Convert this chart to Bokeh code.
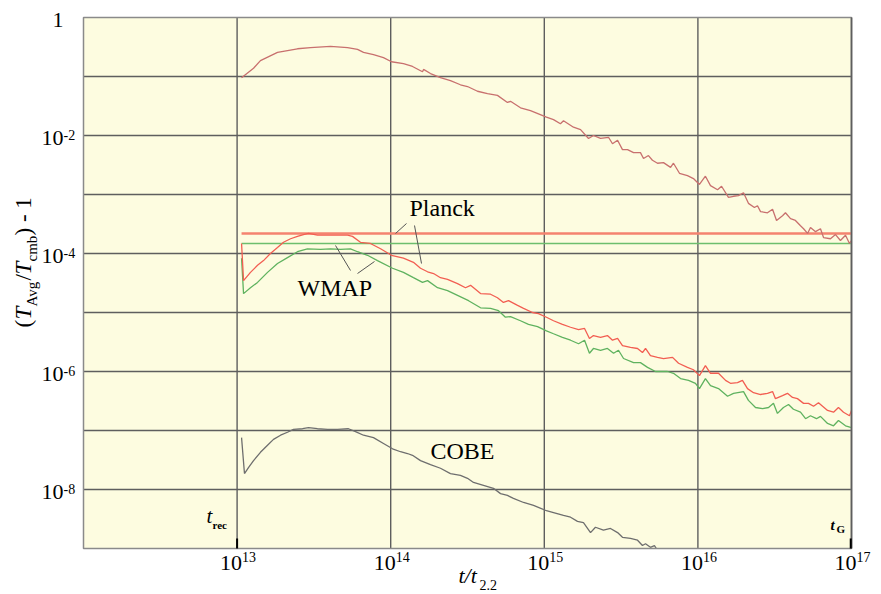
import numpy as np
from bokeh.plotting import figure
from bokeh.models import Label, Range1d
from bokeh.core.properties import value
from bokeh.embed import file_html
from bokeh.resources import INLINE

# ---------------- data (log10 of t/t2.2 and log10 of (T_avg/T_cmb)-1) -------------
top_logt = [13.029, 13.107, 13.152, 13.263, 13.393, 13.478, 13.608, 13.719, 13.784, 13.823,
            13.888, 13.953, 14.005, 14.083, 14.142, 14.207, 14.214, 14.259, 14.324, 14.389,
            14.454, 14.500, 14.565, 14.630, 14.695, 14.760, 14.780, 14.845, 14.910, 15.014,
            15.060, 15.105, 15.125, 15.190, 15.236, 15.288, 15.320, 15.366, 15.418, 15.444,
            15.477, 15.509, 15.542, 15.581, 15.626, 15.646, 15.678, 15.704, 15.737, 15.776,
            15.822, 15.841, 15.880, 15.932, 15.971, 16.010, 16.049, 16.082, 16.128, 16.154,
            16.199, 16.232, 16.264, 16.297, 16.329, 16.368, 16.388, 16.408, 16.453, 16.486,
            16.512, 16.551, 16.570, 16.603, 16.635, 16.668, 16.688, 16.714, 16.733, 16.766,
            16.798, 16.818, 16.863, 16.896, 16.928, 16.961, 16.987, 17.000]
top_logv = [-1.02, -0.86, -0.73, -0.59, -0.53, -0.51, -0.49, -0.51, -0.54, -0.59,
            -0.63, -0.68, -0.75, -0.78, -0.83, -0.92, -0.88, -0.95, -1.02, -1.07,
            -1.14, -1.17, -1.25, -1.29, -1.32, -1.44, -1.42, -1.53, -1.58, -1.69,
            -1.73, -1.80, -1.75, -1.86, -1.90, -2.05, -2.00, -2.05, -2.03, -2.14,
            -2.08, -2.24, -2.24, -2.29, -2.29, -2.39, -2.34, -2.42, -2.47, -2.46,
            -2.54, -2.47, -2.64, -2.68, -2.73, -2.83, -2.69, -2.85, -2.92, -2.86,
            -3.05, -3.03, -3.02, -2.97, -3.15, -3.22, -3.19, -3.29, -3.31, -3.25,
            -3.44, -3.36, -3.31, -3.41, -3.44, -3.53, -3.58, -3.66, -3.56, -3.63,
            -3.58, -3.73, -3.75, -3.68, -3.78, -3.69, -3.83, -3.78]

planck_logt = [13.029, 13.042, 13.087, 13.133, 13.172, 13.217, 13.263, 13.302, 13.348, 13.393,
               13.432, 13.465, 13.523, 13.589, 13.654, 13.719, 13.751, 13.803, 13.868, 13.934,
               14.005, 14.083, 14.148, 14.194, 14.240, 14.279, 14.324, 14.370, 14.435, 14.487,
               14.520, 14.585, 14.650, 14.695, 14.734, 14.767, 14.826, 14.865, 14.923, 14.962,
               15.014, 15.060, 15.118, 15.171, 15.223, 15.262, 15.294, 15.320, 15.366, 15.411,
               15.444, 15.477, 15.509, 15.561, 15.607, 15.639, 15.659, 15.691, 15.737, 15.776,
               15.835, 15.874, 15.932, 15.971, 16.010, 16.049, 16.082, 16.134, 16.180, 16.212,
               16.258, 16.290, 16.323, 16.362, 16.408, 16.453, 16.486, 16.505, 16.551, 16.583,
               16.616, 16.648, 16.688, 16.720, 16.753, 16.785, 16.844, 16.883, 16.915, 16.948,
               16.987, 17.000]
planck_logv = [-3.83, -4.46, -4.32, -4.20, -4.12, -4.00, -3.90, -3.81, -3.75, -3.71,
               -3.68, -3.66, -3.69, -3.69, -3.69, -3.69, -3.71, -3.81, -3.83, -3.92,
               -4.03, -4.08, -4.15, -4.25, -4.31, -4.34, -4.41, -4.44, -4.51, -4.58,
               -4.54, -4.68, -4.69, -4.75, -4.83, -4.80, -4.88, -4.93, -5.00, -5.02,
               -5.08, -5.14, -5.20, -5.25, -5.29, -5.27, -5.44, -5.39, -5.42, -5.39,
               -5.47, -5.44, -5.56, -5.59, -5.61, -5.68, -5.61, -5.73, -5.76, -5.78,
               -5.76, -5.86, -5.93, -5.97, -6.07, -5.90, -6.03, -6.03, -6.15, -6.20,
               -6.19, -6.15, -6.29, -6.36, -6.39, -6.37, -6.34, -6.46, -6.41, -6.37,
               -6.44, -6.46, -6.54, -6.54, -6.59, -6.53, -6.66, -6.69, -6.61, -6.69,
               -6.75, -6.66]

wmap_logt = [13.029, 13.042, 13.087, 13.133, 13.198, 13.263, 13.328, 13.393, 13.458, 13.543,
             13.608, 13.673, 13.738, 13.784, 13.849, 13.914, 14.012, 14.083, 14.148, 14.207,
             14.240, 14.305, 14.370, 14.435, 14.507, 14.585, 14.650, 14.702, 14.747, 14.780,
             14.845, 14.897, 14.956, 15.014, 15.060, 15.118, 15.171, 15.223, 15.262, 15.294,
             15.320, 15.366, 15.411, 15.451, 15.483, 15.516, 15.581, 15.626, 15.672, 15.724,
             15.802, 15.841, 15.887, 15.939, 15.984, 16.010, 16.049, 16.082, 16.134, 16.193,
             16.232, 16.297, 16.329, 16.375, 16.421, 16.460, 16.492, 16.518, 16.557, 16.590,
             16.622, 16.668, 16.701, 16.733, 16.772, 16.798, 16.844, 16.883, 16.915, 16.961,
             17.000]
wmap_logv = [-4.08, -4.68, -4.58, -4.49, -4.32, -4.17, -4.07, -3.97, -3.92, -3.93,
             -3.92, -3.93, -3.92, -3.97, -4.03, -4.12, -4.25, -4.32, -4.41, -4.49,
             -4.46, -4.58, -4.63, -4.71, -4.80, -4.92, -4.93, -4.97, -5.08, -5.07,
             -5.14, -5.20, -5.24, -5.31, -5.36, -5.42, -5.47, -5.53, -5.47, -5.69,
             -5.61, -5.64, -5.61, -5.69, -5.64, -5.78, -5.85, -5.85, -5.93, -6.00,
             -6.00, -6.03, -6.12, -6.15, -6.20, -6.29, -6.12, -6.24, -6.29, -6.42,
             -6.37, -6.34, -6.49, -6.61, -6.63, -6.61, -6.54, -6.71, -6.61, -6.56,
             -6.64, -6.69, -6.80, -6.75, -6.80, -6.76, -6.88, -6.92, -6.83, -6.92,
             -6.95]

cobe_logt = [13.029, 13.048, 13.074, 13.107, 13.152, 13.198, 13.237, 13.283, 13.328, 13.367,
             13.426, 13.465, 13.523, 13.589, 13.654, 13.725, 13.771, 13.823, 13.888, 13.953,
             14.012, 14.064, 14.109, 14.142, 14.194, 14.259, 14.324, 14.389, 14.454, 14.500,
             14.539, 14.604, 14.669, 14.715, 14.760, 14.799, 14.865, 14.930, 15.014, 15.060,
             15.125, 15.171, 15.216, 15.255, 15.301, 15.333, 15.385, 15.431, 15.477, 15.509,
             15.561, 15.607, 15.639, 15.659, 15.691, 15.717, 15.737]
cobe_logv = [-7.12, -7.73, -7.63, -7.51, -7.37, -7.25, -7.15, -7.08, -7.03, -6.98,
             -6.97, -6.95, -6.97, -6.98, -6.98, -6.97, -7.02, -7.08, -7.12, -7.22,
             -7.31, -7.36, -7.39, -7.42, -7.51, -7.58, -7.64, -7.73, -7.76, -7.81,
             -7.88, -7.93, -7.98, -8.07, -8.10, -8.15, -8.22, -8.27, -8.36, -8.39,
             -8.44, -8.47, -8.54, -8.56, -8.73, -8.64, -8.69, -8.66, -8.73, -8.81,
             -8.83, -8.86, -8.95, -8.92, -8.98, -8.95, -9.03]

# sensitivity levels (horizontal lines)
limit_logt = [13.029, 17.0]
planck_limit_logv = -3.66
wmap_limit_logv = -3.83

# axes: plotted extent and decade ticks
x_lo_exp, x_hi_exp = 12, 17
y_lo_exp, y_hi_exp = -9, 0
x_tick_exps = [13, 14, 15, 16, 17]
y_tick_exps = [0, -1, -2, -3, -4, -5, -6, -7, -8, -9]
y_label_exps = [0, -2, -4, -6, -8]

# ---------------- layout constants (pixels) ---------------------------------------
W, H = 881, 594
X0, XPD = 83.0, 153.6   # plot-area left edge, px per decade
Y0, YPD = 17.0, 59.0    # plot-area top edge,  px per decade
LIFT = 0.38             # baseline correction (fraction of font size)


def pos(px, py):
    """canvas pixel -> data coordinates (for text placement only)"""
    return 10 ** (x_lo_exp + (px - X0) / XPD), 10 ** (y_hi_exp - (py - Y0) / YPD)


def p10(a):
    return [10.0 ** v for v in a]


SERIF = "Liberation Serif"

x_start, y_end = pos(0, 0)
x_end, y_start = pos(W, H)

p = figure(width=W, height=H, x_axis_type="log", y_axis_type="log",
           x_range=Range1d(x_start, x_end), y_range=Range1d(y_start, y_end),
           x_axis_location=None, y_axis_location=None,
           toolbar_location=None, output_backend="svg",
           min_border=0, min_border_left=0, min_border_right=0,
           min_border_top=0, min_border_bottom=0)
p.outline_line_color = None
p.background_fill_color = "white"
p.border_fill_color = "white"
p.grid.visible = False

XL, XR = 10.0 ** x_lo_exp, 10.0 ** x_hi_exp
YB, YT = 10.0 ** y_lo_exp, 10.0 ** y_hi_exp

# plot area background
p.quad(left=[XL], right=[XR], bottom=[YB], top=[YT], fill_color="#FDFCE0", line_color=None)

# grid lines (every decade)
gx = p10([e for e in x_tick_exps])
p.segment(gx, [YB] * len(gx), gx, [YT] * len(gx), line_color="#5e5e5e", line_width=1.4)
gy = p10([e for e in y_tick_exps if y_lo_exp < e < y_hi_exp])
p.segment([XL] * len(gy), gy, [XR] * len(gy), gy, line_color="#5e5e5e", line_width=1.4)

# ---------------- curves -----------------------------------------------------------
p.line(p10(limit_logt), [10 ** planck_limit_logv] * 2, line_color="#F4836F", line_width=2.6)
p.line(p10(limit_logt), [10 ** wmap_limit_logv] * 2, line_color="#6DBE6D", line_width=1.4)
p.line(p10(top_logt), p10(top_logv), line_color="#C8706E", line_width=1.3)
p.line(p10(wmap_logt), p10(wmap_logv), line_color="#5FB25F", line_width=1.3)
p.line(p10(planck_logt), p10(planck_logv), line_color="#F25E52", line_width=1.3)
p.line(p10(cobe_logt), p10(cobe_logv), line_color="#6E6E6E", line_width=1.3)

# mask anything below the plot area, then the plot-area border
p.quad(left=[x_start], right=[x_end], bottom=[y_start], top=[YB], fill_color="white", line_color=None)
p.quad(left=[XL], right=[XR], bottom=[YB], top=[YT], fill_color=None,
       line_color="#8a8a8a", line_width=1.5)
p.segment([XR], [YB], [XR], [YT], line_color="#5e5e5e", line_width=1.4)

# leader lines for the labels
lead = [((395, 233), (406, 223)), ((414, 225), (421, 263)),
        ((335, 245), (350, 270)), ((357, 273), (374, 261))]
x0s, y0s, x1s, y1s = [], [], [], []
for (a, b) in lead:
    xa, ya = pos(*a)
    xb, yb = pos(*b)
    x0s.append(xa); y0s.append(ya); x1s.append(xb); y1s.append(yb)
p.segment(x0s, y0s, x1s, y1s, line_color="#555555", line_width=1.0)

# epoch markers at the bottom
mx = [1e13, 10 ** 16.995]
p.segment(mx, [10 ** -8.83] * 2, mx, [YB] * 2, line_color="black", line_width=2)

# ---------------- tick labels ------------------------------------------------------
xt = p10(x_tick_exps)
p.text(x=xt, y=[YB] * len(xt), text=["10"] * len(xt), x_offset=5, y_offset=23 - LIFT * 22,
       text_align="right", text_baseline="alphabetic", text_font=value(SERIF),
       text_font_size="22px", text_color="black")
p.text(x=xt, y=[YB] * len(xt), text=[str(e) for e in x_tick_exps], x_offset=5,
       y_offset=14 - LIFT * 14,
       text_align="left", text_baseline="alphabetic", text_font=value(SERIF),
       text_font_size="14px", text_color="black")

yt = p10(y_label_exps)
p.text(x=[XL] * len(yt), y=yt, text=["1" if e == 0 else "10" for e in y_label_exps],
       x_offset=-20, y_offset=10.5 - LIFT * 22, text_align="right", text_baseline="alphabetic",
       text_font=value(SERIF), text_font_size="22px", text_color="black")
p.text(x=[XL] * len(yt), y=yt, text=["" if e == 0 else str(e) for e in y_label_exps],
       x_offset=-20, y_offset=5 - LIFT * 14, text_align="left", text_baseline="alphabetic",
       text_font=value(SERIF), text_font_size="14px", text_color="black")


def label(text, px, py, size, style="normal", rotated=False):
    if rotated:
        px -= LIFT * size
    else:
        py -= LIFT * size
    x, y = pos(px, py)
    p.add_layout(Label(x=x, y=y, text=text, text_font=SERIF, text_font_size=f"{size}px",
                       text_font_style=style, text_baseline="alphabetic", text_align="left",
                       angle=(np.pi / 2 if rotated else 0.0), text_color="black"))


label("Planck", 409, 217, 24)
label("WMAP", 297, 297, 24)
label("COBE", 430, 460, 24)

label("t", 206, 523, 21, "italic")
label("rec", 212, 529, 11, "bold")
label("t", 830, 530, 15, "bold italic")
label("G", 836, 533, 11, "bold")

# x-axis title  t/t_2.2
label("t/t", 458, 583, 22, "italic")
label("2.2", 479, 590, 14)

# y-axis title  (T_Avg/T_cmb) - 1  (rotated)
label("(", 32, 327, 23, rotated=True)
label("T", 32, 319, 23, "italic", rotated=True)
label("Avg", 37, 306, 15, rotated=True)
label("/", 32, 280, 23, rotated=True)
label("T", 32, 274, 23, "italic", rotated=True)
label("cmb", 37, 261, 15, rotated=True)
label(") - 1", 32, 235, 23, rotated=True)

open("out.html", "w").write(file_html(p, INLINE))
